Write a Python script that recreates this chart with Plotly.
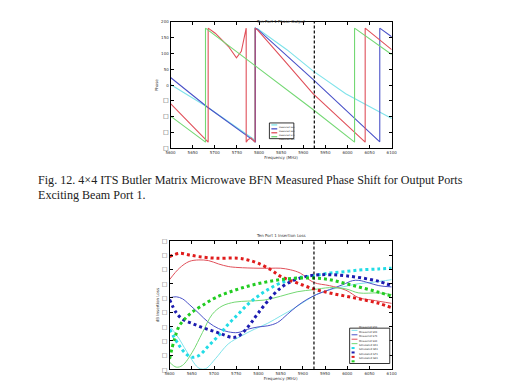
import plotly.graph_objects as go

# ---------------- data ----------------
FREQ_TICKS = [5600, 5650, 5700, 5750, 5800, 5850, 5900, 5950, 6000, 6050, 6100]
BAND_EDGE = 5925

SQ = "<span style='font-size:6px'>□</span>"
PHASE_TICKS = [200, 150, 100, 50, 0, -50, -100, -150, -200]
PHASE_TICK_TEXT = ["200", "150", "100", "50", "0", SQ, SQ, SQ, SQ]

# measured phase (deg), wrapped at +/-180
s51_phase_f = [5600, 5683, 5787, 5790, 5790, 5797, 5863, 5922, 5996, 6100]
s51_phase = [2, -69, -170, -180, 180, 178, 112, 45, -27, -105]

s61_phase_f = [5600, 5683, 5788, 5792, 5792, 5797, 5922, 6073, 6073, 6100]
s61_phase = [24, -69, -175, -180, 180, 176, 18, -179, 180, 153]

s71_phase_f = [5600, 5685, 5685, 5701, 5731, 5749, 5760, 5768, 5771, 5771, 5775, 5782,
               5789, 5791, 5791, 5797, 5849, 5922, 6040, 6040, 6100]
s71_phase = [-58, -180, 180, 164, 122, 86, 107, 159, 180, -180, -172, -167,
             -177, -180, 180, 174, 91, -27, -180, 180, 112]

s81_phase_f = [5600, 5679, 5679, 5922, 6016, 6016, 6100]
s81_phase = [-98, -180, 180, -77, -180, 180, 97]

LOSS_TICKS = [-1, -2, -3, -4, -5, -6, -7, -8, -9, -10]
LOSS_TICK_TEXT = ["□"] * 10

# measured insertion loss (dB)
m51_f = [5600, 5622, 5644, 5666, 5681, 5703, 5732, 5762, 5791, 5821, 5850, 5879, 5909, 5938, 5968, 5997, 6026, 6056, 6100]
m51 = [-6.95, -7.88, -9.03, -9.91, -9.95, -9.26, -8.22, -7.65, -7.19, -6.77, -6.26, -5.75, -5.15, -4.65, -4.37, -4.18, -4.00, -3.91, -3.72]

m61_f = [5600, 5615, 5629, 5644, 5666, 5688, 5710, 5732, 5754, 5776, 5799, 5821, 5843, 5865, 5887, 5909, 5931, 5960, 5990, 6012, 6026, 6049, 6071, 6100]
m61 = [-4.99, -4.92, -5.06, -5.45, -6.08, -6.72, -7.14, -7.37, -7.42, -7.19, -7.03, -6.95, -6.72, -6.15, -5.57, -5.11, -4.76, -4.42, -4.07, -3.79, -3.77, -3.95, -4.14, -4.23]

m71_f = [5600, 5622, 5644, 5666, 5688, 5710, 5732, 5754, 5799, 5828, 5850, 5872, 5894, 5924, 5960, 5997, 6026, 6056, 6100]
m71 = [-3.72, -2.92, -2.45, -2.34, -2.39, -2.62, -2.80, -2.87, -2.92, -2.92, -2.92, -3.03, -3.26, -3.91, -4.14, -4.46, -4.99, -5.15, -5.38]

m81_f = [5600, 5615, 5629, 5651, 5674, 5696, 5718, 5747, 5776, 5813, 5850, 5887, 5924, 5960, 5997, 6026, 6071, 6100]
m81 = [-9.49, -9.84, -9.72, -8.80, -7.42, -6.15, -5.57, -5.29, -5.22, -5.15, -4.88, -4.57, -4.42, -4.28, -4.37, -4.65, -4.65, -4.76]

# simulated insertion loss (dB)
s51_f = [5600, 5622, 5637, 5651, 5666, 5688, 5710, 5732, 5754, 5776, 5799, 5821, 5850, 5887, 5924, 5960, 5997, 6034, 6071, 6100]
s51 = [-7.19, -8.34, -8.92, -9.15, -9.03, -8.34, -7.65, -6.84, -6.15, -5.45, -4.88, -4.42, -3.95, -3.61, -3.45, -3.26, -3.15, -3.03, -2.97, -2.92]

s61_f = [5600, 5615, 5629, 5651, 5674, 5696, 5718, 5740, 5754, 5769, 5784, 5799, 5821, 5850, 5879, 5909, 5938, 5968, 5997, 6034, 6071, 6100]
s61 = [-5.11, -6.03, -6.49, -6.79, -7.07, -7.30, -7.53, -7.76, -7.69, -7.30, -6.72, -6.08, -5.22, -4.30, -3.77, -3.49, -3.38, -3.38, -3.45, -3.61, -3.84, -4.14]

s71_f = [5600, 5622, 5644, 5666, 5703, 5754, 5776, 5799, 5828, 5850, 5887, 5924, 5960, 5997, 6034, 6071, 6100]
s71 = [-2.11, -1.88, -1.99, -2.11, -2.22, -2.22, -2.34, -2.57, -3.03, -3.49, -3.95, -4.37, -4.65, -4.88, -5.11, -5.38, -5.68]

s81_f = [5600, 5611, 5622, 5637, 5651, 5674, 5703, 5740, 5776, 5813, 5850, 5887, 5924, 5960, 5997, 6034, 6071, 6100]
s81 = [-9.26, -7.88, -6.95, -6.38, -5.99, -5.52, -4.99, -4.53, -4.18, -3.91, -3.72, -3.61, -3.61, -3.72, -4.00, -4.30, -4.60, -4.88]

CAPTION_1 = "Fig. 12. 4×4 ITS Butler Matrix Microwave BFN Measured Phase Shift for Output Ports"
CAPTION_2 = "Exciting Beam Port 1."

# ---------------- styling ----------------
W, H = 514, 386
def px(x):
    return x / W
def py(y):
    return 1 - y / H

C_CYAN_M, C_BLUE_M, C_RED_M, C_GREEN_M = "#7fe3ea", "#4a52c8", "#e0505a", "#74d874"
C_CYAN_S, C_BLUE_S, C_RED_S, C_GREEN_S = "#22dce6", "#1c1cb0", "#e01c1c", "#22cc22"

fig = go.Figure()

top_traces = [
    ("Measured S51", s51_phase_f, s51_phase, C_CYAN_M),
    ("Measured S61", s61_phase_f, s61_phase, C_BLUE_M),
    ("Measured S71", s71_phase_f, s71_phase, C_RED_M),
    ("Measured S81", s81_phase_f, s81_phase, C_GREEN_M),
]
for name, fx, fy, col in top_traces:
    fig.add_trace(go.Scatter(x=fx, y=fy, mode="lines", name=name, showlegend=False,
                             line=dict(color=col, width=1.1), xaxis="x", yaxis="y"))

bot_traces = [
    ("Measured S51", m51_f, m51, C_CYAN_M, "solid", 1.0),
    ("Measured S61", m61_f, m61, C_BLUE_M, "solid", 1.0),
    ("Measured S71", m71_f, m71, C_RED_M, "solid", 1.0),
    ("Measured S81", m81_f, m81, C_GREEN_M, "solid", 1.0),
    ("Simulated S51", s51_f, s51, C_CYAN_S, "dot", 3),
    ("Simulated S61", s61_f, s61, C_BLUE_S, "dot", 3),
    ("Simulated S71", s71_f, s71, C_RED_S, "dot", 3),
    ("Simulated S81", s81_f, s81, C_GREEN_S, "dot", 3),
]
for name, fx, fy, col, dash, w in bot_traces:
    fig.add_trace(go.Scatter(x=fx, y=fy, mode="lines", name=name, showlegend=False,
                             line=dict(color=col, width=w, dash=dash, shape="spline"),
                             xaxis="x2", yaxis="y2"))

axis_common = dict(showline=True, linecolor="black", linewidth=1, mirror="ticks",
                   ticks="inside", ticklen=3, tickcolor="black", showgrid=False,
                   zeroline=False, tickfont=dict(size=4, color="#333", family="DejaVu Sans"))

title_font = dict(size=4, color="#333", family="DejaVu Sans")

fig.update_layout(
    width=W, height=H, margin=dict(l=0, r=0, t=0, b=0),
    paper_bgcolor="white", plot_bgcolor="white", showlegend=False,
    xaxis=dict(domain=[px(161), px(387)], range=[5600, 6100], tickvals=FREQ_TICKS,
               anchor="y", title=dict(text="Frequency (MHz)", font=title_font, standoff=1),
               **axis_common),
    yaxis=dict(domain=[py(139), py(10)], range=[-200, 200], tickvals=PHASE_TICKS,
               ticktext=PHASE_TICK_TEXT, anchor="x",
               title=dict(text="Phase", font=title_font, standoff=2), **axis_common),
    xaxis2=dict(domain=[px(160), px(387)], range=[5600, 6100], tickvals=FREQ_TICKS,
                anchor="y2", title=dict(text="Frequency (MHz)", font=title_font, standoff=1),
                **axis_common),
    yaxis2=dict(domain=[py(364), py(233)], range=[-10, -1], tickvals=LOSS_TICKS,
                ticktext=LOSS_TICK_TEXT, anchor="x2",
                title=dict(text="dB Insertion Loss", font=title_font, standoff=2), **axis_common),
)
fig.update_yaxes(tickfont=dict(size=6, color="#555"), selector=dict(anchor="x2"))

DASH = "3px,2px"
shapes = [
    dict(type="line", xref="x", yref="y domain", x0=BAND_EDGE, x1=BAND_EDGE, y0=0, y1=1,
         line=dict(color="black", width=1.2, dash=DASH)),
    dict(type="line", xref="x2", yref="y2 domain", x0=BAND_EDGE, x1=BAND_EDGE, y0=0, y1=1,
         line=dict(color="black", width=1.2, dash=DASH)),
]
cap_font = dict(family="Liberation Serif", size=12.1, color="#222")
annotations = [
    dict(text="Ten Port 1 Phase Output", x=px(274), y=py(5), xref="paper", yref="paper",
         showarrow=False, font=title_font),
    dict(text="Ten Port 1 Insertion Loss", x=px(274), y=py(228), xref="paper", yref="paper",
         showarrow=False, font=title_font),
    dict(text=CAPTION_1, x=px(23), y=py(171), xref="paper", yref="paper", xanchor="left",
         showarrow=False, font=cap_font),
    dict(text=CAPTION_2, x=px(23), y=py(186), xref="paper", yref="paper", xanchor="left",
         showarrow=False, font=cap_font),
]

def add_legend(entries, x0, x1, y0, y1, fsize):
    shapes.append(dict(type="rect", xref="paper", yref="paper", x0=px(x0), x1=px(x1),
                       y0=py(y1), y1=py(y0), line=dict(color="black", width=0.8),
                       fillcolor="white"))
    n = len(entries)
    step = (y1 - y0) / n
    for i, e in enumerate(entries):
        name, col, dash, w = e
        yc = y0 + step * (i + 0.5)
        shapes.append(dict(type="line", xref="paper", yref="paper", x0=px(x0 + 2), x1=px(x0 + 8),
                           y0=py(yc), y1=py(yc), line=dict(color=col, width=min(w, 2), dash=dash)))
        annotations.append(dict(text=name, x=px(x0 + 9), y=py(yc), xref="paper", yref="paper",
                                xanchor="left", showarrow=False, borderpad=0,
                                font=dict(size=fsize, color="#333", family="DejaVu Sans")))

add_legend([(n, c, "solid", 1.3) for n, _, _, c in top_traces], 262, 287, 113, 129, 2.2)
add_legend([(n, c, d, w) for n, _, _, c, d, w in bot_traces], 344, 385, 322, 358, 2.6)

fig.update_layout(shapes=shapes, annotations=annotations)
fig.write_html("out.html")
